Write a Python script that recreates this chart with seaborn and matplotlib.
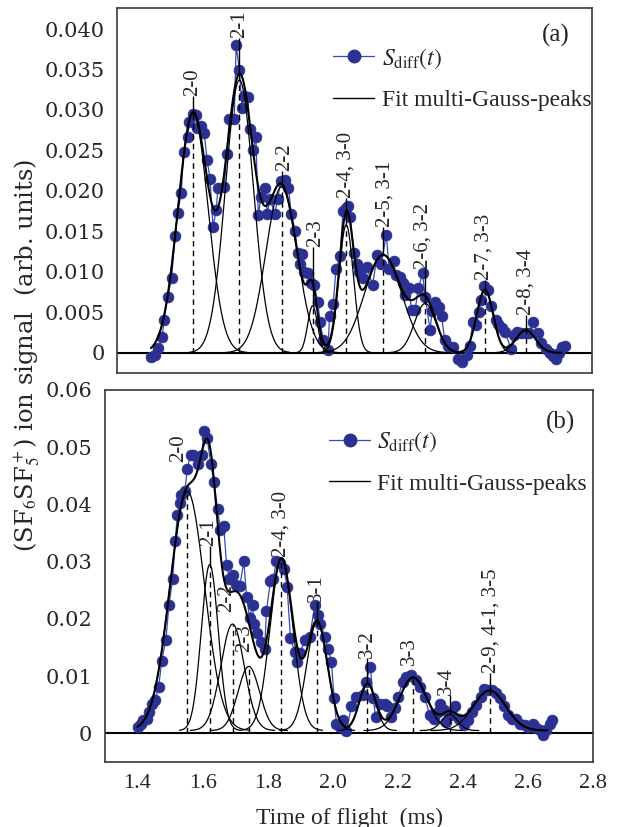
import numpy as np
import pandas as pd
import matplotlib
matplotlib.use("Agg")
import matplotlib.pyplot as plt
from matplotlib.lines import Line2D
from matplotlib.ticker import MultipleLocator, FuncFormatter
import seaborn as sns

# ---------------- data: panel (a) ----------------
t_a = [1.4072, 1.4186, 1.4309, 1.4423, 1.4485, 1.4598, 1.4722, 1.4835, 1.4918, 1.5031,
       1.5103, 1.5227, 1.5289, 1.5402, 1.5485, 1.5526, 1.5660, 1.5753, 1.5846, 1.5938,
       1.6031, 1.6134, 1.6186, 1.6382, 1.6464, 1.6547, 1.6701, 1.6763, 1.6866, 1.6949,
       1.7000, 1.7134, 1.7186, 1.7299, 1.7382, 1.7464, 1.7547, 1.7681, 1.7743, 1.7835,
       1.7980, 1.8073, 1.8165, 1.8310, 1.8413, 1.8506, 1.8629, 1.8701, 1.8794, 1.8856,
       1.8918, 1.9031, 1.9124, 1.9227, 1.9341, 1.9413, 1.9516, 1.9660, 1.9712, 1.9825,
       1.9918, 2.0042, 2.0135, 2.0238, 2.0289, 2.0372, 2.0475, 2.0568, 2.0640, 2.0784,
       2.0887, 2.1073, 2.1217, 2.1341, 2.1506, 2.1588, 2.1733, 2.1805, 2.1939, 2.2021,
       2.2083, 2.2217, 2.2300, 2.2413, 2.2516, 2.2650, 2.2733, 2.2887, 2.2949, 2.3032,
       2.3166, 2.3248, 2.3351, 2.3465, 2.3599, 2.3784, 2.3898, 2.4042, 2.4145, 2.4228,
       2.4331, 2.4434, 2.4496, 2.4599, 2.4712, 2.4815, 2.4960, 2.5032, 2.5145, 2.5248,
       2.5444, 2.5527, 2.5630, 2.5743, 2.5908, 2.6011, 2.6145, 2.6279, 2.6393, 2.6537,
       2.6661, 2.6754, 2.6857, 2.6970, 2.7042, 2.7145]
s_a = [-0.0005, -0.0003, 0.0006, 0.0019, 0.0040, 0.0069, 0.0092, 0.0144, 0.0173, 0.0198,
       0.0248, 0.0267, 0.0285, 0.0295, 0.0294, 0.0278, 0.0280, 0.0271, 0.0238, 0.0215,
       0.0155, 0.0177, 0.0203, 0.0205, 0.0245, 0.0289, 0.0289, 0.0380, 0.0349, 0.0302,
       0.0317, 0.0316, 0.0277, 0.0251, 0.0266, 0.0170, 0.0193, 0.0203, 0.0172, 0.0190,
       0.0172, 0.0190, 0.0212, 0.0213, 0.0204, 0.0171, 0.0151, 0.0123, 0.0110, 0.0122,
       0.0100, 0.0099, 0.0086, 0.0084, 0.0063, 0.0038, 0.0016, 0.0003, 0.0045, 0.0060,
       0.0104, 0.0119, 0.0175, 0.0179, 0.0181, 0.0168, 0.0123, 0.0110, 0.0100, 0.0092,
       0.0106, 0.0084, 0.0121, 0.0110, 0.0146, 0.0104, 0.0113, 0.0096, 0.0094, 0.0086,
       0.0071, 0.0080, 0.0053, 0.0053, 0.0080, 0.0098, 0.0069, 0.0028, 0.0051, 0.0063,
       0.0057, 0.0045, 0.0016, 0.0008, 0.0007, -0.0008, -0.0012, -0.0003, 0.0008, 0.0038,
       0.0034, 0.0050, 0.0065, 0.0083, 0.0078, 0.0058, 0.0040, 0.0036, 0.0030, 0.0026,
       0.0005, 0.0022, 0.0026, 0.0025, 0.0024, 0.0024, 0.0038, 0.0024, 0.0012, 0.0005,
       0.0000, -0.0004, -0.0008, 0.0000, 0.0007, 0.0008]

# Gaussian components of the fit, panel (a)
peaks_a = ["2-0", "2-1", "2-2", "2-3", "2-4, 3-0", "2-5, 3-1", "2-6, 3-2", "2-7, 3-3", "2-8, 3-4"]
center_a = [1.5402, 1.6866, 1.8196, 1.9176, 2.0238, 2.1403, 2.2733, 2.4619, 2.5908]
amp_a = [0.0296, 0.0337, 0.0205, 0.0058, 0.0158, 0.0121, 0.0061, 0.0078, 0.0028]
width_a = [0.0474, 0.0443, 0.0495, 0.0155, 0.0227, 0.0588, 0.0340, 0.0258, 0.0309]
offset_a = 0.0
fit_range_a = (1.4072, 2.7042)

# ---------------- data: panel (b) ----------------
t_b = [1.402, 1.4095, 1.4177, 1.428, 1.436, 1.443, 1.4535, 1.465, 1.474, 1.487,
       1.4965, 1.5078, 1.516, 1.522, 1.530, 1.535, 1.5456, 1.5528, 1.563, 1.571,
       1.5845, 1.597, 1.605, 1.614, 1.625, 1.635, 1.646, 1.655, 1.665, 1.6736,
       1.6818, 1.694, 1.704, 1.7145, 1.7268, 1.735, 1.745, 1.7534, 1.7575, 1.7678,
       1.781, 1.791, 1.796, 1.8087, 1.8169, 1.827, 1.8374, 1.8497, 1.860, 1.870,
       1.8834, 1.8906, 1.8988, 1.914, 1.9295, 1.9448, 1.955, 1.9622, 1.9755, 1.9857,
       1.996, 2.0042, 2.0114, 2.0237, 2.0318, 2.042, 2.0574, 2.0728, 2.093, 2.1014,
       2.1158, 2.124, 2.132, 2.1444, 2.160, 2.1669, 2.180, 2.1905, 2.2007, 2.216,
       2.2263, 2.2417, 2.2549, 2.267, 2.2826, 2.298, 2.310, 2.3235, 2.3286, 2.341,
       2.349, 2.3645, 2.3747, 2.388, 2.4024, 2.4157, 2.429, 2.4413, 2.4566, 2.4638,
       2.477, 2.4904, 2.5006, 2.5129, 2.5252, 2.5385, 2.5518, 2.564, 2.5764, 2.5897,
       2.600, 2.6152, 2.6254, 2.6377, 2.6459, 2.656, 2.6663, 2.6746]
s_b = [0.0012, 0.0017, 0.0023, 0.0026, 0.0038, 0.0052, 0.0058, 0.0081, 0.0126, 0.0163,
       0.0224, 0.0269, 0.0336, 0.0381, 0.0402, 0.0416, 0.0424, 0.0462, 0.0487, 0.0487,
       0.0471, 0.0487, 0.0529, 0.0516, 0.0471, 0.0439, 0.0392, 0.0355, 0.0362, 0.0295,
       0.0270, 0.0277, 0.0259, 0.0258, 0.0301, 0.0238, 0.0201, 0.0225, 0.0192, 0.0176,
       0.0160, 0.0148, 0.0213, 0.0267, 0.0269, 0.0302, 0.0297, 0.0288, 0.0256, 0.0166,
       0.0142, 0.0125, 0.0140, 0.0163, 0.0169, 0.0224, 0.0206, 0.0192, 0.0169, 0.0148,
       0.0125, 0.0062, 0.0016, 0.0012, 0.0023, 0.0004, 0.0047, 0.0064, 0.0067, 0.0090,
       0.0116, 0.0062, 0.0029, 0.0052, 0.0052, 0.0047, 0.0029, 0.0044, 0.0064, 0.0090,
       0.0099, 0.0102, 0.0093, 0.0081, 0.0064, 0.0032, 0.0026, 0.0038, 0.0052, 0.0041,
       0.0020, 0.0032, 0.0047, 0.0026, 0.0015, 0.0023, 0.0038, 0.0049, 0.0064, 0.0078,
       0.0076, 0.0076, 0.0070, 0.0061, 0.0047, 0.0032, 0.0026, 0.0026, 0.0017, 0.0015,
       0.0012, 0.0017, 0.0010, 0.0006, -0.0002, 0.0006, 0.0017, 0.0023]

peaks_b = ["2-0", "2-1", "2-2", "2-3", "2-4, 3-0", "3-1", "3-2", "3-3", "3-4", "2-9, 4-1, 3-5"]
center_b = [1.553, 1.622, 1.692, 1.742, 1.8425, 1.952, 2.1065, 2.247, 2.359, 2.482]
amp_b = [0.0418, 0.0290, 0.0186, 0.0112, 0.0300, 0.0190, 0.0082, 0.0093, 0.0028, 0.0070]
width_b = [0.053, 0.026, 0.036, 0.033, 0.035, 0.032, 0.025, 0.042, 0.025, 0.050]
offset_b = 0.0005
fit_range_b = (1.400, 2.660)

# where each peak label sits (time, lower end of the text)
label_pos_a = [(1.5402, 0.0317), (1.6866, 0.0389), (1.8289, 0.0224), (1.9258, 0.0131),
               (2.0238, 0.0191), (2.1454, 0.0156), (2.2671, 0.0104), (2.4599, 0.0090),
               (2.5908, 0.0047)]
label_pos_b = [(1.525, 0.0474), (1.617, 0.0328), (1.674, 0.0212), (1.730, 0.0142),
               (1.8425, 0.0308), (1.950, 0.0230), (2.1065, 0.0131), (2.2365, 0.0119),
               (2.349, 0.0067), (2.487, 0.0105)]

# ---------------- styling ----------------
sns.set_theme(style="white")
plt.rcParams["font.family"] = ["Liberation Serif", "DejaVu Serif"]
plt.rcParams["mathtext.fontset"] = "stix"

DOT = "#2b3192"
DOTLINE = "#3a48b8"
FRAME = "#3a3a3a"
SERIF = "Liberation Serif"
WIDE = "DejaVu Serif"


def gauss(t, c, a, w):
    return a * np.exp(-0.5 * ((t - c) / w) ** 2)


def draw_panel(ax, t, s, peaks, centers, amps, widths, offset, fit_range,
               label_pos, ylim, ymajor, yminor, yfmt, tag, legend_anchor, tag_xy):
    ax.axhline(0, color="black", lw=1.5, zorder=2)

    data = pd.DataFrame({"t": t, "s": s})
    sns.lineplot(data=data, x="t", y="s", ax=ax, color=DOTLINE, lw=0.9,
                 marker="o", markersize=7.8, markerfacecolor=DOT,
                 markeredgecolor=DOT, markeredgewidth=0.5,
                 estimator=None, sort=False, zorder=3)

    # individual components
    for c, a, w in zip(centers, amps, widths):
        lo = max(fit_range[0], c - 3.6 * w)
        hi = min(fit_range[1], c + 3.6 * w)
        tt = np.linspace(lo, hi, 200)
        comp = pd.DataFrame({"t": tt, "y": offset + gauss(tt, c, a, w)})
        sns.lineplot(data=comp, x="t", y="y", ax=ax, color="black", lw=0.9,
                     estimator=None, sort=False, zorder=4)

    # total fit
    tt = np.linspace(fit_range[0], fit_range[1], 800)
    total = offset + sum(gauss(tt, c, a, w) for c, a, w in zip(centers, amps, widths))
    sns.lineplot(data=pd.DataFrame({"t": tt, "y": total}), x="t", y="y", ax=ax,
                 color="black", lw=1.5, estimator=None, sort=False, zorder=5)

    # peak markers and labels
    for name, c, a, (lx, ly) in zip(peaks, centers, amps, label_pos):
        top = offset + a
        ax.vlines(c, 0, top, colors="black", linestyles=(0, (4, 3)), lw=1.0, zorder=4)
        if abs(lx - c) < 0.01 and ly > top:
            ax.vlines(c, top, ly, colors="black", lw=1.0, zorder=4)
        ax.text(lx, ly, name, rotation=90, ha="center", va="bottom",
                fontsize=15, family=SERIF, zorder=6)

    ax.set_xlim(1.3, 2.8)
    ax.set_ylim(*ylim)
    ax.xaxis.set_major_locator(MultipleLocator(0.2))
    ax.xaxis.set_minor_locator(MultipleLocator(0.1))
    ax.yaxis.set_major_locator(MultipleLocator(ymajor))
    ax.yaxis.set_minor_locator(MultipleLocator(yminor))
    ax.yaxis.set_major_formatter(FuncFormatter(
        lambda v, p: "0" if abs(v) < 1e-9 else format(v, yfmt)))
    ax.xaxis.set_major_formatter(FuncFormatter(lambda v, p: f"{v:.1f}"))
    ax.tick_params(axis="x", which="major", direction="in", length=8, width=1.0,
                   color=FRAME, labelsize=16, pad=9)
    ax.tick_params(axis="x", which="minor", direction="in", length=5, width=1.0,
                   color=FRAME)
    ax.tick_params(axis="y", which="major", direction="inout", length=10, width=1.0,
                   color=FRAME, labelsize=15, pad=4)
    ax.tick_params(axis="y", which="minor", direction="in", length=5, width=1.0,
                   color=FRAME)
    ax.tick_params(top=False, right=False, which="both")
    for lab in ax.get_yticklabels():
        lab.set_family(WIDE)
    for lab in ax.get_xticklabels():
        lab.set_family(SERIF)
    for sp in ax.spines.values():
        sp.set_visible(True)
        sp.set_color(FRAME)
        sp.set_linewidth(1.2)
    ax.set_xlabel("")
    ax.set_ylabel("")

    handles = [
        Line2D([], [], color=DOTLINE, lw=0.9, marker="o", markersize=9,
               markerfacecolor=DOT, markeredgecolor=DOT),
        Line2D([], [], color="black", lw=1.0),
    ]
    ax.legend(handles, [r"$S_{\rm diff}(t)$", "Fit multi-Gauss-peaks"],
              loc="upper left", bbox_to_anchor=legend_anchor, frameon=False,
              fontsize=17, handlelength=1.75, handletextpad=0.3,
              labelspacing=0.8, borderpad=0, borderaxespad=0)
    ax.text(tag_xy[0], tag_xy[1], tag, transform=ax.transAxes, ha="center",
            va="center", fontsize=18, family=SERIF)


fig = plt.figure(figsize=(6.38, 8.27), dpi=100)
W, H = 638.0, 827.0
ax_a = fig.add_axes([117 / W, 1 - 373 / H, 475 / W, 365 / H])
ax_b = fig.add_axes([105 / W, 1 - 762 / H, 488 / W, 372 / H])

draw_panel(ax_a, t_a, s_a, peaks_a, center_a, amp_a, width_a, offset_a, fit_range_a,
           label_pos_a, (-0.0025, 0.0426), 0.005, 0.0025, ".3f", "(a)",
           (0.455, 0.895), (0.924, 0.926))
draw_panel(ax_b, t_b, s_b, peaks_b, center_b, amp_b, width_b, offset_b, fit_range_b,
           label_pos_b, (-0.005, 0.060), 0.01, 0.005, ".2f", "(b)",
           (0.459, 0.893), (0.934, 0.914))

ax_a.tick_params(axis="x", labelbottom=False)
ax_b.set_xlabel("Time of flight  (ms)", fontsize=17, family=SERIF, labelpad=10)

fig.text(27 / W, 1 - 355 / H, r"(SF$_6$SF$_5^+$) ion signal  (arb. units)",
         rotation=90, ha="center", va="center", fontsize=17.5, family=WIDE)

fig.savefig("out.png", dpi=100)
